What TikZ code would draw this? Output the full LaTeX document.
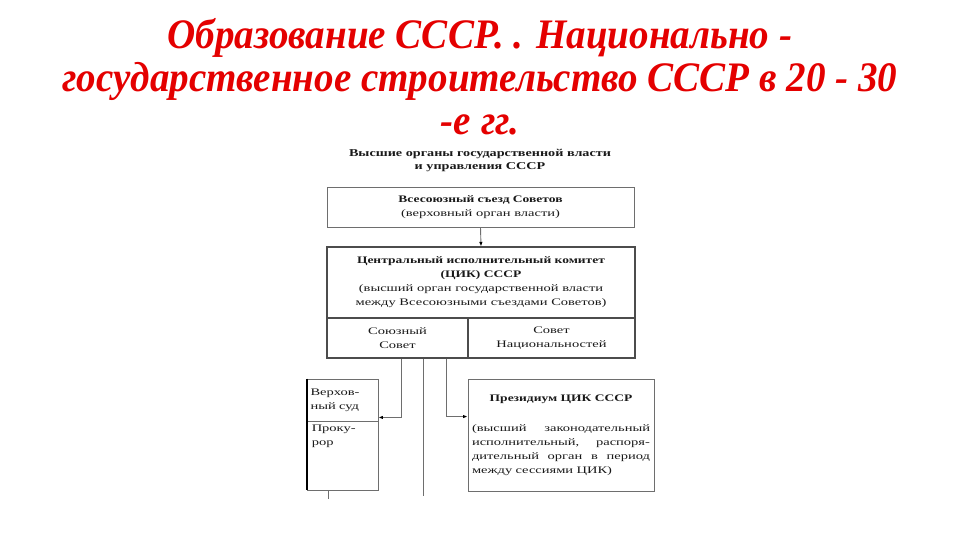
\documentclass[tikz,border=0pt]{standalone}
\usepackage{fontspec}
\setmainfont{Liberation Serif}
\newfontfamily\titlefont[FakeStretch=0.93]{Liberation Serif}
\newfontfamily\schemefont[FakeStretch=1.45, BoldFeatures={FakeStretch=1.35}]{Liberation Serif}
\definecolor{titlered}{RGB}{228,0,0}
\definecolor{boxgray}{RGB}{110,110,110}
\definecolor{textgray}{RGB}{25,25,25}
\usetikzlibrary{arrows.meta,positioning}

\begin{document}
\begin{tikzpicture}[x=1pt, y=-1pt,
  every node/.style={font=\schemefont\fontsize{10}{14}\selectfont, text=textgray},
  box/.style={draw=boxgray, line width=0.9pt, align=center, inner sep=2pt},
  link/.style={draw=boxgray, line width=0.9pt},
  arr/.style={link, -{Latex[length=4.5pt,width=3.5pt,fill=black,color=black]}}]
\useasboundingbox (0,0) rectangle (960,540);
% Title
\node[font=\titlefont\bfseries\itshape\fontsize{42}{43}\selectfont, text=titlered, align=center] (title) at (480,77)
  {Образование СССР. . Национально -\\государственное строительство СССР в 20 - 30\\-е гг.};
\node[font=\schemefont\bfseries\fontsize{10.5}{13}\selectfont, align=center] (head) at (480,161)
  {Высшие органы государственной власти\\и управления СССР};
% Boxes
\node[box, minimum width=307pt, minimum height=40pt] (congress) at (480.5,207)
  {\textbf{Всесоюзный съезд Советов}\\(верховный орган власти)};
\node[box, line width=1.1pt, draw=black!70, minimum width=308pt, minimum height=71pt] (cik) at (481,282.5)
  {\textbf{Центральный исполнительный комитет}\\\textbf{(ЦИК) СССР}\\(высший орган государственной власти\\между Всесоюзными съездами Советов)};
\node[box, line width=1.1pt, draw=black!70, minimum width=141pt, minimum height=40pt] (soyuz) at (397.5,338)
  {Союзный\\Совет};
\node[box, line width=1.1pt, draw=black!70, minimum width=167pt, minimum height=40pt] (nats) at (551.5,338)
  {Совет\\Национальностей};
\node[box, minimum width=71pt, minimum height=42pt, align=left, text width=64pt] (court) at (342.5,400)
  {Верхов-\\ный суд};
\node[box, minimum width=71pt, minimum height=69pt] (prokuror) at (342.5,455.5) {};
\node[anchor=north west, align=left, inner sep=0pt] (prokurortext) at ([xshift=5pt,yshift=-4pt]prokuror.north west)
  {Проку-\\рор};
\node[box, minimum width=186pt, minimum height=112pt, text width=178pt, align=left] (presidium) at (561,435)
  {\centering\textbf{Президиум ЦИК СССР}\par\vspace{16pt}
   \hbox to 178pt{(высший\hfill законодательный}
   \hbox to 178pt{исполнительный,\hfill распоря-}
   \hbox to 178pt{дительный\hfill орган\hfill в\hfill период}
   \hbox to 178pt{между сессиями ЦИК)\hfill}};
% Connectors
\coordinate (down) at (423,496);
\coordinate (tickend) at (328,499);
\draw[arr] (congress.south) -- (cik.north);
\draw[arr] ([xshift=3.5pt]soyuz.south) |- ([yshift=4pt]court.south east);
\draw[arr] ([xshift=-22pt]soyuz.south east) |- ([yshift=-38pt]presidium.north west);
\draw[link] (soyuz.south -| down) -- (down);
\draw[link] (prokuror.south -| tickend) -- (tickend);
\draw[line width=2pt, black] (court.north west) -- (prokuror.south west);
\end{tikzpicture}
\end{document}
